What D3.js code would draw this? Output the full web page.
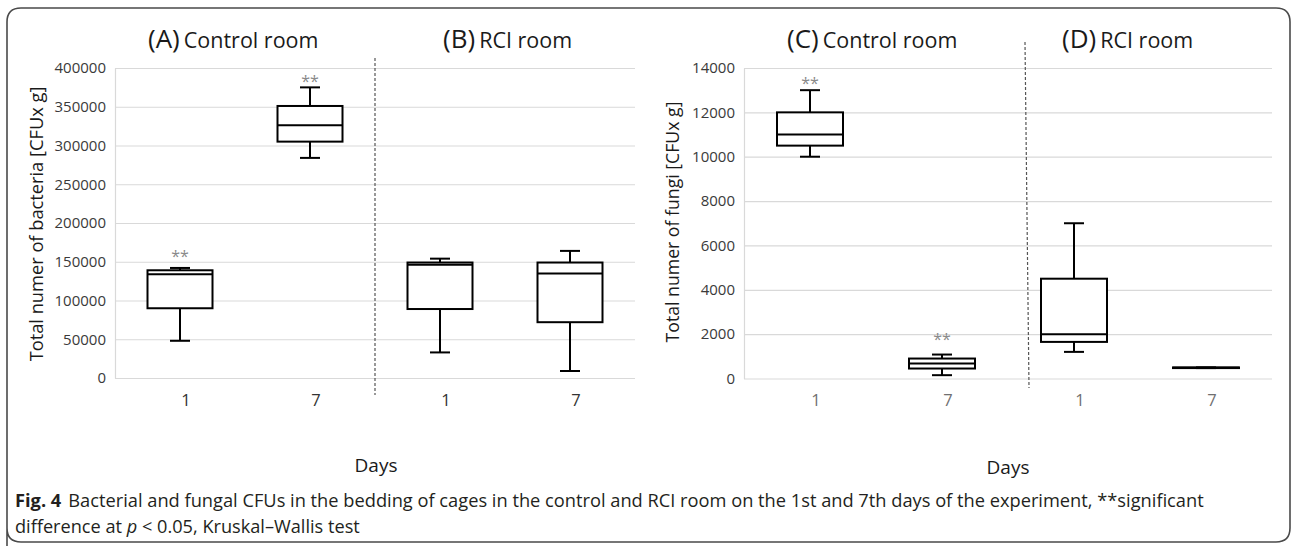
<!DOCTYPE html>
<html>
<head>
<meta charset="utf-8">
<script src="https://cdn.jsdelivr.net/npm/d3@7"></script>
<style>
  body { margin: 0; background: #fff; }
  text { font-family: "Open Sans", "Noto Sans", sans-serif; }
</style>
</head>
<body>
<div id="chart"></div>
<script>
// x categories (days), shared by both charts
const groups = ["ctrl1", "ctrl7", "rci1", "rci7"];
const days = ["1", "7", "1", "7"];

// bacteria, CFU x g
const bactTicks = [0, 50000, 100000, 150000, 200000, 250000, 300000, 350000, 400000];
const bactMin = [48000, 284000, 33000, 9000];
const bactQ1 = [90000, 305000, 89000, 72000];
const bactMed = [134000, 326000, 146000, 135000];
const bactQ3 = [139000, 351000, 149000, 149000];
const bactMax = [142000, 375000, 154000, 164000];
const bactStars = [161000, 387000, null, null];

// fungi, CFU x g
const fungiTicks = [0, 2000, 4000, 6000, 8000, 10000, 12000, 14000];
const fungiMin = [10000, 150, 1200, 470];
const fungiQ1 = [10500, 450, 1650, 470];
const fungiMed = [11000, 675, 2000, 480];
const fungiQ3 = [12000, 900, 4500, 500];
const fungiMax = [13000, 1080, 7000, 500];
const fungiStars = [13480, 1920, null, null];

const W = 1292, H = 546;

const svg = d3.select("#chart")
  .append("svg")
  .attr("width", W)
  .attr("height", H);

svg.append("rect").attr("width", W).attr("height", H).attr("fill", "#fff");

// frame
svg.append("path")
  .attr("d", "M7,560 L7,22 Q7,8 21,8 L1276,8 Q1290,8 1290,22 L1290,528 Q1290,542 1276,542 L21,542 Q7,542 7,528")
  .attr("fill", "none")
  .attr("stroke", "#4a4a4a")
  .attr("stroke-width", 1.6);

function fitText(t, size, target) {
  t.attr("font-size", size);
  const w = t.node().getComputedTextLength();
  t.attr("font-size", size * target / w);
}

function drawPanel(opt) {
  const x = d3.scaleBand().domain(groups).range(opt.xRange);
  const y = d3.scaleLinear().domain([0, opt.ticks[opt.ticks.length - 1]]).range(opt.yRange);
  const g = svg.append("g");

  // grid lines
  g.selectAll(".grid")
    .data(opt.ticks)
    .enter()
    .append("line")
    .attr("x1", opt.xRange[0])
    .attr("x2", opt.xRange[1])
    .attr("y1", d => y(d) + 0.5)
    .attr("y2", d => y(d) + 0.5)
    .attr("stroke", "#d9d9d9")
    .attr("stroke-width", 1.2);

  g.append("line")
    .attr("x1", opt.xRange[0] + 0.5).attr("x2", opt.xRange[0] + 0.5)
    .attr("y1", y.range()[0] + 0.5).attr("y2", y.range()[1] + 0.5)
    .attr("stroke", "#d9d9d9")
    .attr("stroke-width", 1.2);

  // y axis labels
  const yAxis = d3.axisLeft(y).tickValues(opt.ticks).tickFormat(d3.format("d")).tickSize(0).tickPadding(9);
  const ya = g.append("g")
    .attr("transform", `translate(${opt.xRange[0]},0)`)
    .call(yAxis);
  ya.select(".domain").remove();
  ya.selectAll("text")
    .attr("font-family", "'Open Sans', sans-serif")
    .attr("font-size", 15)
    .attr("fill", "#3a3a3a");

  // x axis labels
  const xAxis = d3.axisBottom(x).tickFormat((d, i) => days[i]).tickSize(0).tickPadding(0);
  const xa = g.append("g")
    .attr("transform", `translate(6,${y(0) + 16})`)
    .call(xAxis);
  xa.select(".domain").remove();
  xa.selectAll("text")
    .attr("font-family", "'Open Sans', sans-serif")
    .attr("font-size", 16.5)
    .attr("fill", opt.xColor);

  // divider
  const bound = x(groups[2]) - x.step() * x.paddingInner() / 2;
  g.append("line")
    .attr("x1", bound + opt.divShift[0]).attr("x2", bound + opt.divShift[1])
    .attr("y1", opt.divY[0]).attr("y2", opt.divY[1])
    .attr("stroke", "#555")
    .attr("stroke-width", 1.2)
    .attr("stroke-dasharray", "3,2");

  // boxes
  const bw = x.bandwidth() / 2;
  const cap = 20;
  const boxes = groups.map((k, i) => ({
    k, min: opt.min[i], q1: opt.q1[i], med: opt.med[i], q3: opt.q3[i], max: opt.max[i], star: opt.stars[i]
  }));
  const bx = g.selectAll(".box")
    .data(boxes)
    .enter()
    .append("g")
    .attr("transform", d => `translate(${x(d.k) + x.bandwidth() / 2},0)`);

  bx.append("line")
    .attr("y1", d => y(d.max)).attr("y2", d => y(d.q3))
    .attr("stroke", "#000").attr("stroke-width", 2);
  bx.append("line")
    .attr("y1", d => y(d.q1)).attr("y2", d => y(d.min))
    .attr("stroke", "#000").attr("stroke-width", 2);
  bx.append("line")
    .attr("x1", -cap / 2).attr("x2", cap / 2)
    .attr("y1", d => y(d.max)).attr("y2", d => y(d.max))
    .attr("stroke", "#000").attr("stroke-width", 2);
  bx.append("line")
    .attr("x1", -cap / 2).attr("x2", cap / 2)
    .attr("y1", d => y(d.min)).attr("y2", d => y(d.min))
    .attr("stroke", "#000").attr("stroke-width", 2);
  bx.append("rect")
    .attr("x", -bw / 2)
    .attr("width", bw)
    .attr("y", d => y(d.q3))
    .attr("height", d => y(d.q1) - y(d.q3))
    .attr("fill", "#fff")
    .attr("stroke", "#000")
    .attr("stroke-width", 2);
  bx.append("line")
    .attr("x1", -bw / 2).attr("x2", bw / 2)
    .attr("y1", d => y(d.med)).attr("y2", d => y(d.med))
    .attr("stroke", "#000").attr("stroke-width", 2);

  bx.filter(d => d.star != null)
    .append("text")
    .attr("text-anchor", "middle")
    .attr("y", d => y(d.star) + 9)
    .attr("font-size", 16)
    .attr("fill", "#8a8a8a")
    .text("**");

  // y title
  const yt = g.append("text")
    .attr("transform", `translate(${opt.titleX},${opt.titleY}) rotate(-90)`)
    .attr("text-anchor", "middle")
    .attr("fill", "#1a1a1a")
    .text(opt.yTitle);
  fitText(yt, 17, opt.titleLen);

  // panel titles
  opt.heads.forEach(h => {
    const t = g.append("text")
      .attr("x", h.x)
      .attr("y", 48)
      .attr("fill", "#1a1a1a");
    t.append("tspan").attr("font-size", 26).text(h.tag);
    t.append("tspan").attr("font-size", 21.5).attr("dx", 4).text(h.name);
  });

  // Days
  g.append("text")
    .attr("x", opt.daysX)
    .attr("y", opt.daysY)
    .attr("text-anchor", "middle")
    .attr("font-size", 19)
    .attr("fill", "#1a1a1a")
    .text("Days");
}

drawPanel({
  xRange: [115, 635], yRange: [378, 68], ticks: bactTicks,
  min: bactMin, q1: bactQ1, med: bactMed, q3: bactQ3, max: bactMax, stars: bactStars,
  xColor: "#333", divShift: [0, 0], divY: [58, 395],
  titleX: 43, titleY: 224, titleLen: 275, yTitle: "Total numer of bacteria [CFUx g]",
  heads: [{x: 148, tag: "(A)", name: "Control room"}, {x: 443, tag: "(B)", name: "RCI room"}],
  daysX: 376, daysY: 472
});

drawPanel({
  xRange: [744, 1272], yRange: [378.5, 68], ticks: fungiTicks,
  min: fungiMin, q1: fungiQ1, med: fungiMed, q3: fungiQ3, max: fungiMax, stars: fungiStars,
  xColor: "#707070", divShift: [17, 21], divY: [42, 388],
  titleX: 679, titleY: 222, titleLen: 241, yTitle: "Total numer of fungi [CFUx g]",
  heads: [{x: 787, tag: "(C)", name: "Control room"}, {x: 1062, tag: "(D)", name: "RCI room"}],
  daysX: 1008, daysY: 474
});

// caption
const cap1 = svg.append("text").attr("x", 15).attr("y", 507).attr("fill", "#231f20");
cap1.append("tspan").attr("font-weight", "bold").text("Fig. 4");
cap1.append("tspan").attr("dx", 7).text("Bacterial and fungal CFUs in the bedding of cages in the control and RCI room on the 1st and 7th days of the experiment, **significant");
const cap2 = svg.append("text").attr("x", 15).attr("y", 533).attr("fill", "#231f20");
cap2.append("tspan").text("difference at ");
cap2.append("tspan").attr("font-style", "italic").text("p");
cap2.append("tspan").text(" < 0.05, Kruskal–Wallis test");

// fit caption size to the printed line widths
fitText(cap1, 15, 1182);
fitText(cap2, 15, 345);
</script>
</body>
</html>
